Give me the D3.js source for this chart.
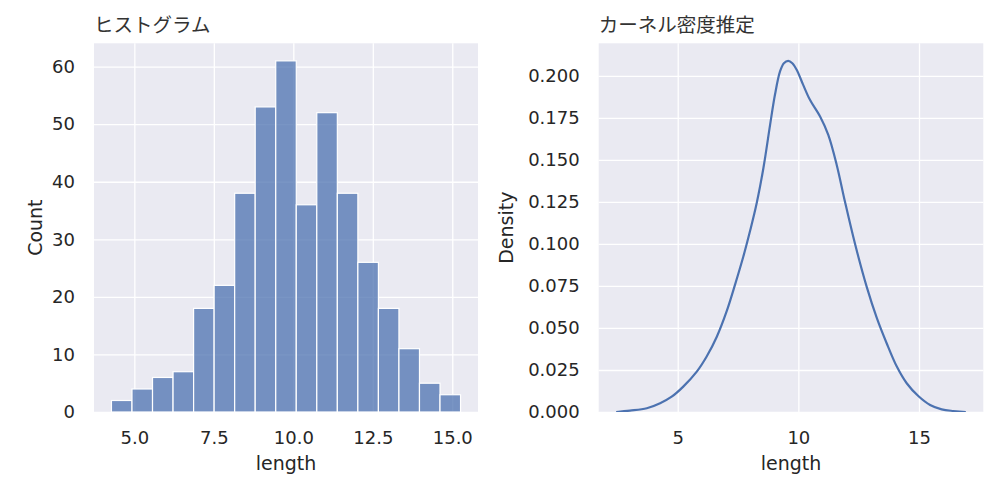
<!DOCTYPE html>
<html><head><meta charset="utf-8">
<script src="https://cdn.jsdelivr.net/npm/d3@7"></script>
<style>
html,body{margin:0;padding:0;background:#fff;}
svg text{font-family:"DejaVu Sans",Verdana,sans-serif;fill:#262626;}
</style></head>
<body><svg id="chart" width="1001" height="484"></svg>
<script>
// ---- data ----
const histTitle = "ヒストグラム";
const kdeTitle = "カーネル密度推定";
const xLabel = "length";
const histYLabel = "Count";
const kdeYLabel = "Density";
const lengthMin = 4.28;
const lengthMax = 15.26;
const histCounts = [2, 4, 6, 7, 18, 22, 38, 53, 61, 36, 52, 38, 26, 18, 11, 5, 3];
const histXTicks = [5.0, 7.5, 10.0, 12.5, 15.0];
const histYTicks = [0, 10, 20, 30, 40, 50, 60];
const kdeX = [2.45, 3.02, 3.72, 4.27, 4.75, 5.23, 5.79, 6.2, 6.62, 7.03, 7.37, 7.72, 8.0, 8.27, 8.55, 8.83, 9.03, 9.24, 9.4, 9.58, 9.75, 9.93, 10.2, 10.48, 10.9, 11.24, 11.59, 11.93, 12.35, 12.83, 13.25, 13.66, 14.08, 14.49, 14.97, 15.46, 15.94, 16.42, 16.94];
const kdeY = [0, 0.0008, 0.0022, 0.0052, 0.0091, 0.0151, 0.024, 0.033, 0.0448, 0.060, 0.0755, 0.0925, 0.1078, 0.124, 0.145, 0.171, 0.1887, 0.2026, 0.2075, 0.2089, 0.2075, 0.2036, 0.1946, 0.1857, 0.1758, 0.1649, 0.147, 0.1252, 0.0999, 0.0746, 0.0560, 0.0409, 0.027, 0.0171, 0.0095, 0.0042, 0.0016, 0.0006, 0];
const kdeXTicks = [5, 10, 15];
const kdeYTicks = [0, 0.025, 0.05, 0.075, 0.1, 0.125, 0.15, 0.175, 0.2];

// ---- layout ----
const svg = d3.select("#chart");
const BG = "#EAEAF2", BLUE = "#4C72B0";
const plotTop = 43.3, plotBottom = 412;

function panel(id, left, right, xDomain, yDomain, xTicks, yTicks, xFmt, yFmt, title, yLabel, yLabelX) {
  const x = d3.scaleLinear().domain(xDomain).range([left, right]);
  const y = d3.scaleLinear().domain(yDomain).range([plotBottom, plotTop]);
  const g = svg.append("g");
  g.append("clipPath").attr("id", id).append("rect")
    .attr("x", left).attr("y", plotTop).attr("width", right - left).attr("height", plotBottom - plotTop);
  g.append("rect").attr("x", left).attr("y", plotTop).attr("width", right - left).attr("height", plotBottom - plotTop).attr("fill", BG);
  g.append("g").attr("transform", `translate(0,${plotBottom})`)
    .call(d3.axisBottom(x).tickValues(xTicks).tickSize(-(plotBottom - plotTop)).tickFormat(xFmt).tickPadding(19))
    .call(a => { a.select(".domain").remove();
      a.selectAll(".tick line").attr("stroke", "#fff").attr("stroke-width", 1.3);
      a.selectAll(".tick text").attr("font-size", 18).attr("fill", "#262626").attr("font-family", "DejaVu Sans"); });
  g.append("g").attr("transform", `translate(${left},0)`)
    .call(d3.axisLeft(y).tickValues(yTicks).tickSize(-(right - left)).tickFormat(yFmt).tickPadding(19))
    .call(a => { a.select(".domain").remove();
      a.selectAll(".tick line").attr("stroke", "#fff").attr("stroke-width", 1.3);
      a.selectAll(".tick text").attr("font-size", 18).attr("fill", "#262626").attr("font-family", "DejaVu Sans"); });
  g.append("text").attr("x", left).attr("y", 32).attr("font-size", 19.5)
    .style("font-family", '"Noto Sans CJK JP", sans-serif').style("fill", "#333").text(title);
  g.append("text").attr("x", (left + right) / 2).attr("y", 470).attr("text-anchor", "middle").attr("font-size", 19).text(xLabel);
  g.append("text").attr("transform", `translate(${yLabelX},${(plotTop + plotBottom) / 2}) rotate(-90)`)
    .attr("text-anchor", "middle").attr("font-size", 19).text(yLabel);
  return {x, y, g};
}

// histogram panel
const histPad = 0.05 * (lengthMax - lengthMin);
const binW = (lengthMax - lengthMin) / histCounts.length;
const h = panel("clipH", 94, 478, [lengthMin - histPad, lengthMax + histPad], [0, d3.max(histCounts) * 1.05],
  histXTicks, histYTicks, d3.format(".1f"), d3.format("d"), histTitle, histYLabel, 41.5);
h.g.append("g").selectAll("rect").data(histCounts).join("rect")
  .attr("x", (d, i) => h.x(lengthMin + i * binW))
  .attr("width", (d, i) => h.x(lengthMin + (i + 1) * binW) - h.x(lengthMin + i * binW))
  .attr("y", d => h.y(d)).attr("height", d => h.y(0) - h.y(d))
  .attr("fill", BLUE).attr("fill-opacity", 0.75).attr("stroke", "#fff").attr("stroke-width", 1.2);

// kde panel
const kx0 = d3.min(kdeX), kx1 = d3.max(kdeX), kPad = 0.05 * (kx1 - kx0);
const k = panel("clipK", 598.7, 983.3, [kx0 - kPad, kx1 + kPad], [0, d3.max(kdeY) * 1.05],
  kdeXTicks, kdeYTicks, d3.format("d"), d3.format(".3f"), kdeTitle, kdeYLabel, 513);
const pts = kdeX.map((v, i) => [v, kdeY[i]]);
k.g.append("path").datum(pts).attr("clip-path", "url(#clipK)")
  .attr("d", d3.line().x(d => k.x(d[0])).y(d => k.y(d[1])).curve(d3.curveCatmullRom.alpha(0.5)))
  .attr("fill", "none").attr("stroke", BLUE).attr("stroke-width", 2.2).attr("stroke-linejoin", "round");
</script></body></html>
